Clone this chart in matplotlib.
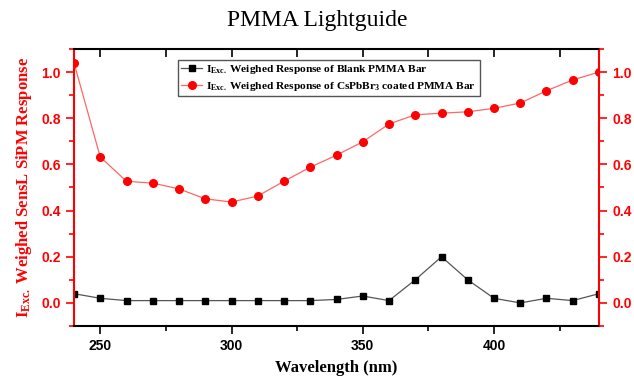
import matplotlib
matplotlib.use("Agg")
import matplotlib.pyplot as plt
from matplotlib.ticker import MultipleLocator

wavelength = [240, 250, 260, 270, 280, 290, 300, 310, 320, 330, 340,
              350, 360, 370, 380, 390, 400, 410, 420, 430, 440]
blank = [0.04, 0.02, 0.01, 0.01, 0.01, 0.01, 0.01, 0.01, 0.01, 0.01, 0.015,
         0.03, 0.01, 0.10, 0.20, 0.10, 0.02, 0.00, 0.02, 0.01, 0.04]
coated = [1.04, 0.632, 0.527, 0.519, 0.494, 0.451, 0.437, 0.463, 0.527, 0.588, 0.640,
          0.698, 0.775, 0.815, 0.822, 0.828, 0.843, 0.866, 0.919, 0.966, 1.0]
xticks = [250, 300, 350, 400]
yticks = [0.0, 0.2, 0.4, 0.6, 0.8, 1.0]

plt.rcParams['mathtext.fontset'] = 'custom'
plt.rcParams['mathtext.rm'] = 'Liberation Serif'
plt.rcParams['mathtext.bf'] = 'Liberation Serif:bold'
plt.rcParams['mathtext.it'] = 'Liberation Serif:italic'

fig = plt.figure(figsize=(6.34, 3.81), dpi=100)
ax = fig.add_axes([74/634, 1-326/381, (599-74)/634, (326-49)/381])

red = '#ff0000'
ax.plot(wavelength, blank, color='#555555', lw=0.9, marker='s', ms=4.5,
        mfc='black', mec='black',
        label=r'$\mathbf{I_{Exc.}}$ Weighed Response of Blank PMMA Bar')
ax.plot(wavelength, coated, color='#ff6666', lw=0.9, marker='o', ms=5.5,
        mfc=red, mec=red,
        label=r'$\mathbf{I_{Exc.}}$ Weighed Response of CsPbBr$\mathbf{_3}$ coated PMMA Bar')

ax.set_xlim(240, 440)
ax.set_ylim(-0.1, 1.1)
ax.set_xticks(xticks)
ax.xaxis.set_minor_locator(MultipleLocator(25))
ax.set_yticks(yticks)
ax.yaxis.set_minor_locator(MultipleLocator(0.1))

for lab in ax.get_xticklabels() + ax.get_yticklabels():
    lab.set_fontfamily('Liberation Sans')
    lab.set_fontweight('bold')
    lab.set_fontsize(10)

ax.tick_params(axis='x', which='major', direction='out', length=6, width=1.2, colors='black')
ax.tick_params(axis='x', which='minor', direction='out', length=3.5, width=1.2, colors='black')
ax.tick_params(axis='y', which='major', direction='out', length=6, width=1.2, colors=red)
ax.tick_params(axis='y', which='minor', direction='out', length=3.5, width=1.2, colors=red)

for s in ['top', 'bottom']:
    ax.spines[s].set_linewidth(1.5)
    ax.spines[s].set_color('black')
ax.spines['left'].set_color(red)
ax.spines['left'].set_linewidth(1.5)
ax.spines['right'].set_color(red)
ax.spines['right'].set_linewidth(1.5)

# top axis ticks (inward)
axt = ax.secondary_xaxis('top')
axt.set_xticks([250, 275, 300, 325, 350, 375, 400, 425])
axt.tick_params(axis='x', direction='in', length=6, width=1.2, labeltop=False)
axt.spines['top'].set_visible(False)

# right axis
axr = ax.twinx()
axr.set_ylim(ax.get_ylim())
axr.set_yticks(yticks)
axr.yaxis.set_minor_locator(MultipleLocator(0.1))
axr.tick_params(axis='y', which='major', direction='out', length=6, width=1.2, colors=red)
axr.tick_params(axis='y', which='minor', direction='out', length=3.5, width=1.2, colors=red)
for lab in axr.get_yticklabels():
    lab.set_fontfamily('Liberation Sans')
    lab.set_fontweight('bold')
    lab.set_fontsize(10)
for s in axr.spines.values():
    s.set_visible(False)

ax.set_xlabel('Wavelength (nm)', fontfamily='Liberation Serif', fontweight='bold',
              fontsize=12, labelpad=5)
ax.set_ylabel(r'$\mathbf{I_{Exc.}}$ Weighed SensL SiPM Response', fontfamily='Liberation Serif',
              fontweight='bold', fontsize=12, color=red, labelpad=5)
fig.suptitle('PMMA Lightguide', fontfamily='Liberation Serif', fontsize=17, y=0.975)

leg = ax.legend(loc='upper left', bbox_to_anchor=(104/525, 1-11/277), frameon=True,
                fancybox=False, edgecolor='#555555', framealpha=1,
                prop={'family': 'Liberation Serif', 'weight': 'bold', 'size': 8.2},
                handlelength=1.8, borderpad=0.3, labelspacing=0.3, handletextpad=0.4,
                borderaxespad=0)
leg.get_frame().set_linewidth(1.0)

fig.savefig('out.png', dpi=100)
